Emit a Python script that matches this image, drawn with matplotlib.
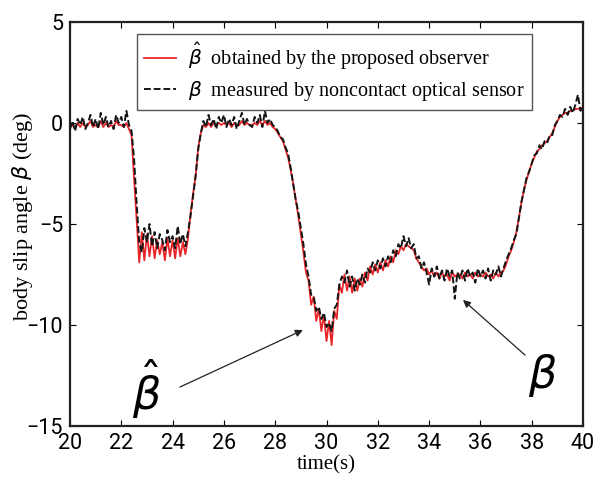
import matplotlib
matplotlib.use("Agg")
import matplotlib.pyplot as plt
import numpy as np

# ---------------- data ----------------
t_start = 20.0
t_step = 0.1

# beta measured by noncontact optical sensor (black dashed)
beta_meas = [
    -0.3, 0.1, -0.4, 0.2, -0.1, 0.3, -0.3, 0.0, 0.4, -0.2,
    0.2, -0.3, 0.5, -0.1, 0.3, -0.2, 0.1, -0.3, 0.4, 0.0,
    0.3, -0.2, 0.6, -0.1, -0.4, -1.8, -4.0, -5.9, -6.4, -5.2,
    -5.9, -5.0, -6.1, -5.4, -6.2, -5.5, -5.8, -6.3, -5.3, -5.9,
    -5.6, -6.2, -5.1, -6.0, -5.5, -6.1, -5.4, -4.6, -3.6, -2.6,
    -1.3, -0.5, 0.1, -0.2, 0.4, -0.1, 0.2, -0.3, 0.3, 0.0,
    0.4, -0.2, 0.2, -0.1, 0.3, -0.3, 0.1, 0.5, -0.1, 0.2, -0.1,
    -0.2, 0.3, 0.0, 0.4, -0.2, 0.6, 0.0, 0.2, -0.1, -0.2,
    -0.4, -0.7, -0.8, -1.2, -1.5, -2.2, -3.0, -3.8, -4.4, -5.2,
    -6.0, -7.0, -7.6, -8.5, -8.6, -9.3, -9.1, -9.7, -9.4, -10.1,
    -9.9, -10.3, -9.2, -9.0, -8.0, -7.6, -7.9, -7.3, -8.1, -7.6,
    -8.3, -7.7, -8.0, -7.5, -7.9, -7.2, -7.4, -6.9, -7.3, -6.8,
    -7.2, -6.7, -7.1, -6.6, -6.9, -6.3, -6.6, -6.0, -6.2, -5.6,
    -6.1, -5.7, -6.2, -6.0, -6.7, -6.6, -7.2, -6.9, -7.4, -8.0,
    -7.2, -7.6, -7.1, -7.7, -7.3, -7.8, -7.2, -7.6, -7.3, -8.7, -7.4,
    -7.7, -7.3, -7.8, -7.2, -7.6, -7.4, -7.9, -7.2, -7.6, -7.3,
    -7.7, -7.2, -7.8, -7.3, -7.5, -7.1, -7.6, -7.2, -6.8, -6.5,
    -6.2, -5.8, -5.5, -4.7, -3.9, -3.3, -2.7, -2.4, -2.0, -1.6,
    -1.5, -1.1, -1.3, -0.9, -1.0, -0.6, -0.6, -0.1, 0.1, 0.4,
    0.3, 0.7, 0.4, 0.8, 0.5, 0.9, 1.4, 0.6, 0.9, 0.5,
]

# beta hat obtained by the proposed observer (red solid)
beta_hat = [
    -0.2, -0.1, -0.3, 0.0, -0.2, 0.0, -0.2, -0.1, 0.1, -0.2,
    -0.1, -0.2, 0.1, -0.2, 0.0, -0.2, -0.1, -0.2, 0.1, -0.1,
    -0.1, -0.2, 0.0, -0.3, -0.6, -2.8, -4.8, -6.9, -5.4, -6.8,
    -5.5, -6.6, -5.6, -6.7, -5.8, -6.5, -5.9, -6.8, -5.7, -6.6,
    -5.8, -6.7, -5.7, -6.6, -5.9, -6.5, -5.7, -4.5, -3.5, -2.6,
    -1.2, -0.5, -0.1, -0.2, 0.0, -0.2, 0.0, -0.1, 0.0, -0.1,
    0.0, -0.1, 0.0, -0.2, 0.0, -0.1, -0.1, 0.1, -0.1, 0.0, -0.1,
    -0.1, 0.0, -0.1, 0.1, -0.1, 0.1, -0.1, 0.0, -0.2, -0.3,
    -0.5, -0.7, -0.9, -1.3, -1.7, -2.3, -3.0, -3.8, -4.6, -5.5,
    -6.4, -7.4, -7.8, -9.0, -8.6, -9.8, -9.2, -10.3, -9.5, -10.8,
    -9.8, -11.0, -9.3, -9.7, -8.0, -8.4, -7.5, -8.3, -7.6, -8.4,
    -7.7, -8.3, -7.7, -8.1, -7.4, -7.8, -7.1, -7.5, -7.0, -7.4,
    -6.9, -7.3, -6.8, -7.1, -6.6, -6.9, -6.3, -6.5, -6.1, -6.3,
    -6.0, -6.1, -6.2, -6.3, -6.7, -6.9, -7.1, -7.3, -7.2, -7.5,
    -7.3, -7.6, -7.4, -7.7, -7.4, -7.6, -7.5, -7.8, -7.4, -7.6, -7.5,
    -7.5, -7.7, -7.4, -7.6, -7.5, -7.7, -7.4, -7.6, -7.5, -7.6,
    -7.4, -7.6, -7.5, -7.7, -7.4, -7.6, -7.4, -7.3, -7.0, -6.6,
    -6.3, -5.9, -5.4, -4.7, -3.9, -3.3, -2.8, -2.4, -2.0, -1.7,
    -1.4, -1.3, -1.1, -1.0, -0.9, -0.7, -0.5, -0.2, 0.1, 0.3,
    0.4, 0.5, 0.5, 0.6, 0.6, 0.7, 0.7, 0.7, 0.8, 0.8,
]

x_ticks = [20, 22, 24, 26, 28, 30, 32, 34, 36, 38, 40]
y_ticks = [5, 0, -5, -10, -15]

label_hat = r'$\hat{\beta}$  obtained by the proposed observer'
label_meas = r'$\beta$  measured by noncontact optical sensor'

# ---------------- figure ----------------
t_meas = t_start + t_step * np.arange(len(beta_meas))
t_hat = t_start + t_step * np.arange(len(beta_hat))

fig = plt.figure(figsize=(5.98, 4.83), dpi=100)
ax = fig.add_axes([0.117, 0.118, 0.858, 0.8365])

ax.plot(t_hat, beta_hat, color='#e8262a', lw=1.3, label=label_hat, zorder=2)
ax.plot(t_meas, beta_meas, color='#151515', lw=1.4, ls=(0, (3.5, 1.5)),
        label=label_meas, zorder=3)

ax.set_xlim(20, 40)
ax.set_ylim(-15, 5)
ax.set_xticks(x_ticks)
ax.set_yticks(y_ticks)

tick_font = ['Liberation Sans Narrow', 'Roboto', 'DejaVu Sans']
ax.set_xticklabels([str(v) for v in x_ticks], family=tick_font, fontsize=15.5)
ax.set_yticklabels(['\u2212' + str(-v) if v < 0 else str(v) for v in y_ticks],
                   family=tick_font, fontsize=15.5)

ax.tick_params(direction='in', top=True, right=True, length=4, width=0.8,
               pad=5)
for sp in ax.spines.values():
    sp.set_linewidth(1.6)
    sp.set_color('#222222')

serif = ['Liberation Serif', 'DejaVu Serif']
ax.set_xlabel('time(s)', family=serif, fontsize=15)
ax.set_ylabel(r'body slip angle $\beta$ (deg)', family=serif, fontsize=16)
ax.xaxis.set_label_coords(0.5, -0.072)
ax.yaxis.set_label_coords(-0.068, 0.52)

leg = ax.legend(loc='upper left', bbox_to_anchor=(0.115, 0.99),
                prop={'family': serif, 'size': 14.5}, frameon=True,
                fancybox=False, edgecolor='#555555', framealpha=1,
                handlelength=1.6, handletextpad=0.6, borderaxespad=0.4,
                labelspacing=0.35, borderpad=0.35)
leg.get_frame().set_linewidth(1.0)

# annotations
arrow_kw = dict(arrowstyle='-|>', color='#222222', lw=0.9,
                mutation_scale=11, shrinkA=0, shrinkB=0)
ax.annotate('', xy=(29.08, -10.25), xytext=(24.29, -13.07),
            arrowprops=arrow_kw)
ax.annotate('', xy=(35.32, -8.76), xytext=(37.74, -11.49),
            arrowprops=arrow_kw)
ax.text(23.0, -13.2, r'$\hat{\beta}$', fontsize=32, ha='center', va='center')
ax.text(38.44, -12.5, r'$\beta$', fontsize=32, ha='center', va='center')

fig.savefig('out.png', dpi=100)
